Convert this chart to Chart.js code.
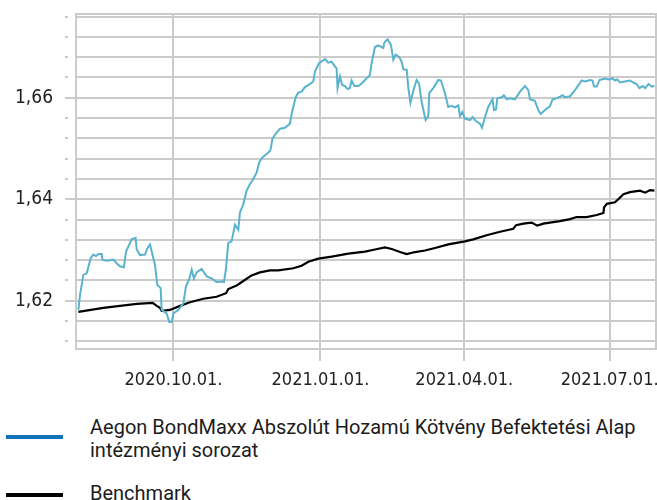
<!DOCTYPE html>
<html lang="hu">
  <head>
    <meta charset="UTF-8" />
    <meta name="viewport" content="width=device-width, initial-scale=1.0" />
    <title>Aegon BondMaxx – árfolyam</title>
    <script src="https://cdn.jsdelivr.net/npm/chart.js"></script>
    <style>
      body { margin: 0; background: #fff; }
      .wrap { position: relative; width: 657px; height: 500px; overflow: hidden; }
      #chart { position: absolute; left: 0; top: 0; }
      .item { position: absolute; left: 0; width: 657px; }
      .item .swatch { position: absolute; left: 6px; width: 57px; height: 4px; }
      .item .label {
        position: absolute; left: 90px; width: 565px;
        font-family: Roboto, sans-serif; font-size: 20px; line-height: 23px; color: #1c1c1c;
      }
      .item-0 { top: 416px; }
      .item-0 .swatch { top: 19px; }
      .item-1 { top: 482px; }
      .item-1 .swatch { top: 11px; }
    </style>
  </head>
  <body>
    <div class="wrap">
      <canvas id="chart" width="657" height="400" style="width:657px;height:400px"></canvas>
      <div id="legend"></div>
    </div>

    <script>
      // x = napok 2020.08.01. óta
      const fundDays = [
        1.5, 2.5, 4.6, 6.7, 9.2, 10.8, 12.5, 14.0, 16.1, 16.5, 19.2, 23.4, 25.4, 27.5, 30.0,
        31.3, 33.4, 34.8, 37.3, 38.0, 40.0, 43.2, 44.6, 46.3, 47.4, 49.4, 50.9, 53.0, 53.6,
        56.7, 58.4, 59.9, 60.9, 64.0, 67.2, 68.8, 71.0, 72.4, 73.8, 75.5, 78.6, 81.8, 84.9,
        88.0, 91.2, 92.6, 93.9, 95.3, 97.4, 99.5, 101.6, 102.6, 104.7, 106.8, 108.9, 110.6,
        113.1, 114.7, 116.8, 119.3, 121.4, 122.0, 122.9, 125.0, 127.7, 130.8, 133.9, 135.0,
        137.5, 139.1, 141.2, 143.3, 145.4, 148.5, 149.6, 152.1, 155.8, 157.8, 160.0, 162.0,
        163.1, 163.7, 165.2, 166.6, 168.3, 170.0, 171.4, 172.5, 174.2, 176.7, 178.8, 180.9,
        184.0, 185.0, 187.1, 189.2, 192.3, 193.0, 195.0, 197.1, 198.6, 200.0, 202.1, 203.8,
        204.9, 207.0, 208.0, 209.3, 211.2, 213.2, 214.7, 216.3, 218.8, 220.5, 221.1, 223.6,
        226.8, 228.4, 230.9, 233.0, 235.1, 237.2, 239.3, 240.3, 241.8, 243.4, 246.6, 248.2,
        250.3, 252.8, 254.1, 256.0, 258.0, 260.7, 261.6, 262.9, 263.7, 266.4, 267.8, 269.5,
        271.6, 274.7, 277.9, 281.0, 283.1, 284.1, 287.2, 289.3, 290.8, 293.5, 296.6, 298.3,
        300.8, 302.9, 304.6, 306.0, 309.2, 312.3, 316.5, 318.6, 321.7, 323.3, 324.2, 325.9,
        327.6, 331.1, 333.2, 335.9, 337.3, 338.8, 340.4, 343.6, 346.7, 348.8, 350.9, 352.6,
        354.7, 356.2, 358.3, 360.4, 362.0
      ];
      const fundValues = [
        1.6182, 1.6211, 1.6251, 1.6254, 1.6284, 1.6291, 1.6288, 1.6292, 1.6292, 1.6281, 1.6279,
        1.6281, 1.6274, 1.6268, 1.6266, 1.6297, 1.6311, 1.6321, 1.6324, 1.6301, 1.6290, 1.6291,
        1.6303, 1.6311, 1.6297, 1.6271, 1.6231, 1.6225, 1.6182, 1.6175, 1.6158, 1.6158, 1.6175,
        1.6182, 1.6195, 1.6228, 1.6244, 1.6261, 1.6244, 1.6256, 1.6263, 1.6248, 1.6244, 1.6237,
        1.6238, 1.6237, 1.6264, 1.6314, 1.6317, 1.6350, 1.6340, 1.6374, 1.6390, 1.6417, 1.6430,
        1.6438, 1.6453, 1.6473, 1.6483, 1.6489, 1.6495, 1.6501, 1.6519, 1.6529, 1.6539, 1.6541,
        1.6549, 1.6569, 1.6601, 1.6610, 1.6612, 1.6621, 1.6625, 1.6632, 1.6652, 1.6668, 1.6676,
        1.6669, 1.6671, 1.6662, 1.6658, 1.6619, 1.6642, 1.6625, 1.6623, 1.6617, 1.6619, 1.6634,
        1.6623, 1.6623, 1.6628, 1.6635, 1.6645, 1.6668, 1.6700, 1.6703, 1.6698, 1.6709, 1.6715,
        1.6704, 1.6675, 1.6685, 1.6681, 1.6671, 1.6656, 1.6655, 1.6619, 1.6590, 1.6615, 1.6635,
        1.6628, 1.6592, 1.6556, 1.6564, 1.6609, 1.6619, 1.6635, 1.6634, 1.6609, 1.6582, 1.6584,
        1.6581, 1.6585, 1.6564, 1.6572, 1.6559, 1.6556, 1.6562, 1.6554, 1.6549, 1.6541, 1.6562,
        1.6582, 1.6597, 1.6576, 1.6577, 1.6599, 1.6601, 1.6605, 1.6597, 1.6599, 1.6597, 1.6612,
        1.6623, 1.6615, 1.6597, 1.6594, 1.6576, 1.6568, 1.6576, 1.6583, 1.6597, 1.6599, 1.6602,
        1.6605, 1.6601, 1.6603, 1.6615, 1.6634, 1.6632, 1.6635, 1.6634, 1.6622, 1.6622, 1.6635,
        1.6638, 1.6636, 1.6638, 1.6634, 1.6636, 1.6630, 1.6632, 1.6634, 1.6630, 1.6627, 1.6619,
        1.6623, 1.6619, 1.6627, 1.6622, 1.6623
      ];

      const benchDays = [
        1.5, 17.1, 38.0, 48.0, 50.5, 52.6, 53.6, 58.8, 65.1, 71.3, 79.7, 88.0, 93.9, 95.3,
        100.5, 104.7, 109.9, 115.1, 121.4, 126.6, 136.0, 141.2, 145.4, 151.7, 160.0, 170.4,
        180.9, 187.1, 193.4, 197.6, 202.8, 207.0, 212.2, 218.4, 224.7, 233.0, 243.4, 248.6,
        257.0, 265.4, 273.7, 275.4, 280.0, 285.2, 288.7, 292.5, 296.6, 302.9, 309.2, 313.3,
        319.6, 325.9, 330.1, 330.5, 332.2, 337.3, 339.4, 342.6, 346.7, 353.0, 356.2, 359.3, 362.0
      ];
      const benchValues = [
        1.6178, 1.6186, 1.6194, 1.6196, 1.6190, 1.6186, 1.6180, 1.6182, 1.6190, 1.6197, 1.6204,
        1.6208, 1.6215, 1.6223, 1.6230, 1.6239, 1.6250, 1.6256, 1.6260, 1.6260, 1.6264, 1.6269,
        1.6277, 1.6283, 1.6287, 1.6293, 1.6297, 1.6301, 1.6305, 1.6302, 1.6296, 1.6292, 1.6296,
        1.6299, 1.6304, 1.6311, 1.6317, 1.6321, 1.6329, 1.6336, 1.6342, 1.6349, 1.6352, 1.6354,
        1.6348, 1.6352, 1.6354, 1.6357, 1.6361, 1.6365, 1.6365, 1.6369, 1.6373, 1.6384, 1.6391,
        1.6394, 1.6400, 1.6410, 1.6414, 1.6417, 1.6413, 1.6418, 1.6417
      ];

      const seriesLabels = [
        "Aegon BondMaxx Abszolút Hozamú Kötvény Befektetési Alap intézményi sorozat",
        "Benchmark"
      ];

      const xTickDays = [61, 153, 243, 334];
      const xTickLabels = ["2020.10.01.", "2021.01.01.", "2021.04.01.", "2021.07.01."];
      const yGridValues = [
        1.612, 1.616, 1.62, 1.624, 1.628, 1.632, 1.636, 1.64, 1.644,
        1.648, 1.652, 1.656, 1.66, 1.664, 1.668, 1.672, 1.676
      ];
      const yTickLabels = ["1,62", "1,64", "1,66"];

      const gridColor = "#cbcbcb";
      const tickFont = { family: "'DejaVu Sans Condensed', 'DejaVu Sans', sans-serif" };

      const toPoints = (days, values) => days.map((d, i) => ({ x: d, y: values[i] }));
      const yLabelFor = (v) => {
        const txt = v.toFixed(2).replace(".", ",");
        return yTickLabels.includes(txt) && Math.abs(v - Number(v.toFixed(2))) < 1e-6 ? txt : "";
      };

      // felső és jobb keret
      const framePlugin = {
        id: "frame",
        beforeDatasetsDraw(chart) {
          const { ctx, chartArea: a } = chart;
          ctx.save();
          ctx.strokeStyle = gridColor;
          ctx.lineWidth = 2;
          ctx.beginPath();
          ctx.moveTo(a.left, a.top);
          ctx.lineTo(a.right, a.top);
          ctx.lineTo(a.right, a.bottom);
          ctx.stroke();
          ctx.restore();
        }
      };

      const chart = new Chart(document.getElementById("chart"), {
        type: "line",
        data: {
          datasets: [
            {
              label: seriesLabels[0],
              data: toPoints(fundDays, fundValues),
              borderColor: "#5ab3cd",
              legendColor: "#1372b8",
              borderWidth: 2,
              pointRadius: 0,
              tension: 0
            },
            {
              label: seriesLabels[1],
              data: toPoints(benchDays, benchValues),
              borderColor: "#000000",
              legendColor: "#000000",
              borderWidth: 2.2,
              pointRadius: 0,
              tension: 0
            }
          ]
        },
        options: {
          responsive: false,
          devicePixelRatio: 1,
          animation: false,
          layout: { padding: { top: 14, right: 1, left: 0, bottom: 0 } },
          plugins: { legend: { display: false }, tooltip: { enabled: false } },
          scales: {
            x: {
              type: "linear",
              min: 0,
              max: 363,
              afterBuildTicks: (s) => { s.ticks = xTickDays.map((v) => ({ value: v })); },
              afterFit: (s) => { s.height = 51; s.paddingLeft = 0; s.paddingRight = 0; },
              ticks: {
                autoSkip: false,
                maxRotation: 0,
                padding: 9,
                color: "#222",
                font: { ...tickFont, size: 18 },
                callback: (v, i) => xTickLabels[i]
              },
              grid: { color: gridColor, lineWidth: 2, tickLength: 12, tickColor: gridColor },
              border: { color: gridColor, width: 2 }
            },
            y: {
              min: 1.6105,
              max: 1.6765,
              afterBuildTicks: (s) => { s.ticks = yGridValues.map((v) => ({ value: v })); },
              afterFit: (s) => { s.width = 76; s.paddingTop = 0; s.paddingBottom = 0; },
              ticks: {
                autoSkip: false,
                padding: 12,
                color: "#222",
                font: { ...tickFont, size: 19 },
                callback: (v) => yLabelFor(v)
              },
              grid: {
                color: gridColor,
                lineWidth: 2,
                tickLength: 11,
                tickColor: gridColor,
                tickBorderDash: (ctx) => (ctx.tick && yLabelFor(ctx.tick.value) ? [] : [3, 40])
              },
              border: { color: gridColor, width: 2 }
            }
          }
        },
        plugins: [framePlugin]
      });

      // jelmagyarázat a grafikon alatt
      const legendEl = document.getElementById("legend");
      chart.data.datasets.forEach((ds, i) => {
        const item = document.createElement("div");
        item.className = "item item-" + i;
        const swatch = document.createElement("div");
        swatch.className = "swatch";
        swatch.style.background = ds.legendColor;
        const label = document.createElement("div");
        label.className = "label";
        label.textContent = ds.label;
        item.appendChild(swatch);
        item.appendChild(label);
        legendEl.appendChild(item);
      });
    </script>
  </body>
</html>
